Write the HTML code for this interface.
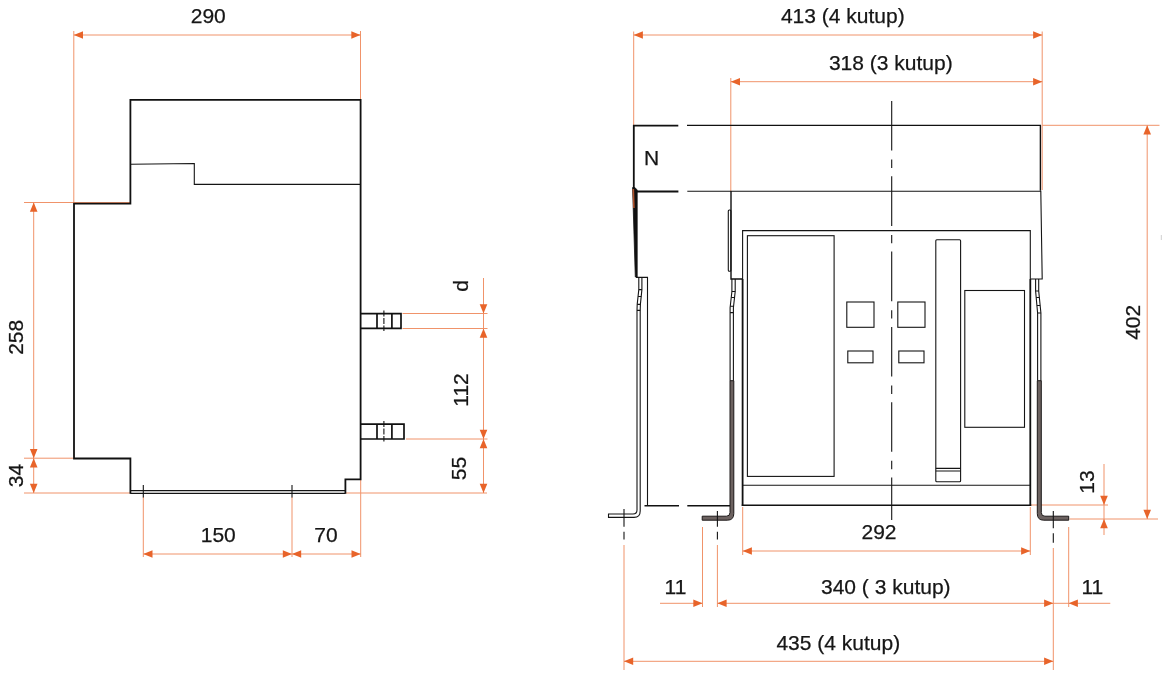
<!DOCTYPE html>
<html><head><meta charset="utf-8"><title>Boyutlar</title>
<style>
html,body{margin:0;padding:0;background:#fff;}
svg{display:block;will-change:transform;}
text{font-family:"Liberation Sans",Arial,sans-serif;font-size:21px;fill:#161616;stroke:#161616;stroke-width:.25;}
.k{stroke:#141414;fill:none;stroke-width:1.1;}
.k2{stroke:#111;fill:none;stroke-width:1.8;}
.k3{stroke:#111;fill:none;stroke-width:1.4;}.kt{stroke:#111;fill:none;stroke-width:1.7;}
.o{stroke:#f0936a;fill:none;stroke-width:1;}
.a{fill:#e8642a;stroke:none;}
.g{fill:#6c6260;stroke:#1c1818;stroke-width:1;}
</style></head><body>
<svg width="1167" height="675" viewBox="0 0 1167 675">
<rect width="1167" height="675" fill="#fff"/>
<defs>
<path id="ar" d="M0,0 L-9.2,-3.8 L-9.2,3.8 Z"/>
</defs>

<!-- ================= SIDE VIEW ================= -->
<g id="side">
<!-- orange dims -->
<g class="o">
<path d="M73.8,31 V203"/><path d="M360.5,31 V99"/>
<path d="M73.8,35 H360.5"/>
<path d="M24,202.5 H130"/>
<path d="M33.7,202.5 V493"/>
<path d="M24,458.2 H74"/>
<path d="M24,493 H130"/>
<path d="M346,493 H487"/>
<path d="M143.3,497 V557"/><path d="M292,497 V557"/><path d="M360.7,480 V557"/>
<path d="M143.3,554 H360.7"/>
<path d="M402.5,313.5 H487.5"/><path d="M402.5,328.5 H487.5"/><path d="M406,439 H487.5"/>
<path d="M483.5,278 V493"/>
</g>
<g class="a">
<use href="#ar" transform="translate(73.8,35) rotate(180)"/>
<use href="#ar" transform="translate(360.5,35)"/>
<use href="#ar" transform="translate(33.7,202.5) rotate(-90)"/>
<use href="#ar" transform="translate(33.7,458.2) rotate(90)"/>
<use href="#ar" transform="translate(33.7,458.2) rotate(-90)"/>
<use href="#ar" transform="translate(33.7,493) rotate(90)"/>
<use href="#ar" transform="translate(143.3,554) rotate(180)"/>
<use href="#ar" transform="translate(292,554)"/>
<use href="#ar" transform="translate(292,554) rotate(180)"/>
<use href="#ar" transform="translate(360.7,554)"/>
<use href="#ar" transform="translate(483.5,313.5) rotate(90)"/>
<use href="#ar" transform="translate(483.5,328.5) rotate(-90)"/>
<use href="#ar" transform="translate(483.5,439) rotate(90)"/>
<use href="#ar" transform="translate(483.5,439) rotate(-90)"/>
<use href="#ar" transform="translate(483.5,493) rotate(90)"/>
</g>
<!-- outline -->
<path class="k2" d="M130.4,493.8 V458.5 H74 V203.6 H130.4 V99.8 H360.6 V479.3 H345.4 V493.8"/><path class="k" stroke-width="1.3" d="M130.4,493.4 H345.4"/>
<path class="k" stroke-width="1.2" d="M130.4,490.6 H345.4"/>
<path class="k" d="M130.4,164.3 L194.3,163.5 V184.4 H360.6"/>
<path class="k" d="M143.3,485 V497.5"/><path class="k" d="M292,485 V497.5"/>
<!-- terminals -->
<path class="kt" d="M360.6,313.6 H401 V328.4 H360.6"/>
<path class="kt" d="M377,313.6 V328.4 M391.9,313.6 V328.4"/>
<path class="k" stroke-dasharray="6 1.5" d="M383.9,310.5 V331"/>
<path class="kt" d="M360.6,424.2 H404 V439 H360.6"/>
<path class="kt" d="M377,424.2 V439 M391.9,424.2 V439"/>
<path class="k" stroke-dasharray="6 1.5" d="M383.9,421 V441.5"/>
<!-- texts -->
<text x="208.3" y="22.7" text-anchor="middle">290</text>
<text transform="translate(22.6,337.3) rotate(-90)" text-anchor="middle">258</text>
<text transform="translate(22.6,475.5) rotate(-90)" text-anchor="middle">34</text>
<text x="218.3" y="541.7" text-anchor="middle">150</text>
<text x="326" y="541.7" text-anchor="middle">70</text>
<text transform="translate(467.8,286) rotate(-90)" text-anchor="middle">d</text>
<text transform="translate(467.8,390) rotate(-90)" text-anchor="middle">112</text>
<text transform="translate(466,468.6) rotate(-90)" text-anchor="middle">55</text>
</g>

<!-- ================= FRONT VIEW ================= -->
<g id="front">
<g class="o">
<path d="M633.7,31.5 V125"/><path d="M1042.2,31.5 V190"/>
<path d="M633.7,35 H1042.3"/>
<path d="M730.8,78 V191"/>
<path d="M730.8,81.7 H1042.3"/>
<path d="M1042.3,125.3 H1159.5"/>
<path d="M1147.2,125.3 V519"/>
<path d="M1030.3,505 H1108"/>
<path d="M1069.5,519 H1158"/>
<path d="M1104,464 V535"/>
<path d="M742.7,507 V555"/><path d="M1030.3,507 V555"/>
<path d="M742.7,551 H1030.3"/>
<path d="M624,545 V670"/><path d="M1053.3,548 V670"/>
<path d="M624,661.3 H1053.3"/>
<path d="M702.5,527 V607"/><path d="M717.4,545 V607"/>
<path d="M1068.7,527 V607"/>
<path d="M660,603.3 H702.5"/>
<path d="M717.4,603.3 H1110.3"/>
</g>
<g class="a">
<use href="#ar" transform="translate(633.7,35) rotate(180)"/>
<use href="#ar" transform="translate(1042.3,35)"/>
<use href="#ar" transform="translate(730.8,81.7) rotate(180)"/>
<use href="#ar" transform="translate(1042.3,81.7)"/>
<use href="#ar" transform="translate(1147.2,125.3) rotate(-90)"/>
<use href="#ar" transform="translate(1147.2,519) rotate(90)"/>
<use href="#ar" transform="translate(1104,505) rotate(90)"/>
<use href="#ar" transform="translate(1104,519) rotate(-90)"/>
<use href="#ar" transform="translate(742.7,551) rotate(180)"/>
<use href="#ar" transform="translate(1030.3,551)"/>
<use href="#ar" transform="translate(624,661.3) rotate(180)"/>
<use href="#ar" transform="translate(1053.3,661.3)"/>
<use href="#ar" transform="translate(702.5,603.3)"/>
<use href="#ar" transform="translate(717.4,603.3) rotate(180)"/>
<use href="#ar" transform="translate(1053.3,603.3)"/>
<use href="#ar" transform="translate(1068.7,603.3) rotate(180)"/>
</g>

<!-- N pole box -->
<path class="k2" stroke-width="2.6" d="M678.3,125.7 H633"/><path class="k2" stroke-width="1.7" d="M633.8,125 V189"/>
<path class="k3" d="M687,125.4 H1040.4 V190.8"/>
<path class="k2" stroke-width="1.6" d="M636,191.5 H678.4"/>
<path class="k" stroke-width="1.2" d="M687.3,191.3 H1040.8 L1042.2,279 H1030.4"/>
<path d="M632.6,187.5 H634.9 L637.2,190 V277 H635.3 Z" fill="#111" stroke="#111" stroke-width="0.8"/>
<path d="M633.3,189 L633.9,208" stroke="#b0522c" stroke-width="1.6" fill="none"/>
<path class="k" d="M636,277.4 H647.5 V505.7"/>
<path class="k3" d="M644.5,505.7 H679"/><path class="k3" d="M687.3,505.7 H730"/>
<!-- left bracket (4 pole) -->
<path class="k" d="M638.8,277.4 V289.6 L637.2,304.4 L637,310.4 V510 Q637,514 633,514 H608.5 V517.4 H634 Q640.2,517.4 640.2,511 V310.4 L640.4,304.4 L641.9,289.6 V277.4"/>
<path class="k" d="M638.8,289.6 H641.9 M638.1,296.5 H641.2 M637.2,304.4 H640.4 M637,310.4 H640.2"/>
<!-- 3-pole left -->
<path class="k3" d="M731,191 V279 H742.6"/>
<rect class="k" x="728.3" y="210" width="2.6" height="61.3" rx="1"/>
<path class="k" d="M731.9,279 V291.5 L730.1,307.8 V380.7 M735.2,279 V291.5 L733.4,307.8 V380.7"/>
<path class="k" d="M731.9,291.5 H735.2 M731.3,297.5 H734.6 M730.3,306.3 H733.6 M730.1,312.6 H733.4"/>
<path class="g" d="M730,380.7 H733.8 V513.6 Q733.8,520.2 727.4,520.2 H702.2 V516.2 H726.4 Q730,516.2 730,512.6 Z"/>
<!-- main body -->
<path class="k" stroke-width="1.2" d="M742.6,279 V230.6 H1030.3 V279"/><path class="k2" stroke-width="1.9" d="M742.6,279 V505.7 M1030.3,279 V505.7"/>
<path class="k3" stroke-width="1.5" d="M741.7,505.3 H1031.2"/>
<path class="k" d="M742.6,485.3 H1030.4"/>
<rect class="k" stroke-width="1.2" x="747.4" y="235.7" width="86.7" height="240.7"/>
<rect class="k" x="846.8" y="302" width="27.2" height="25.3"/>
<rect class="k" x="897.8" y="302" width="27.2" height="25.3"/>
<rect class="k" x="847.8" y="351" width="25.2" height="11.8"/>
<rect class="k" x="898.8" y="351" width="25.2" height="11.8"/>
<rect class="k" x="935.8" y="239.7" width="24.8" height="242" rx="1"/>
<path class="k" d="M935.8,468.4 H960.6 M935.8,471 H960.6"/>
<rect class="k" x="964.8" y="290.5" width="59.7" height="136.8"/>
<!-- right bracket -->
<path class="k" d="M1035.6,279 V291 L1037.6,313 V380.7 M1038.7,279 V291 L1040.9,313 V380.7"/>
<path class="k" d="M1035.6,291 H1038.7 M1036.2,297.5 H1039.3 M1036.9,305.5 H1040.1 M1037.6,313 H1040.9"/>
<path class="g" d="M1041.3,380.7 H1037.3 V513.6 Q1037.3,520.2 1043.7,520.2 H1068.7 V516.2 H1044.9 Q1041.3,516.2 1041.3,512.6 Z"/>
<!-- centre lines -->
<path class="k" stroke-dasharray="49.6 9 8.4 8.3" d="M891.7,101 V520"/>
<path class="k" d="M624,509 V526.7 M624,531.7 V539.5"/>
<path class="k" d="M717.4,511 V526.7 M717.4,531.7 V539.5"/>
<path class="k" d="M1053.3,511 V528.3 M1053.3,533.3 V542.7"/>
<path d="M1161.3,235 V240" stroke="#cfcfcf" stroke-width="1" fill="none"/>
<!-- texts -->
<text x="842.8" y="22.7" text-anchor="middle">413 (4 kutup)</text>
<text x="890.8" y="70" text-anchor="middle">318 (3 kutup)</text>
<text x="651.6" y="165" text-anchor="middle">N</text>
<text transform="translate(1139.5,322.3) rotate(-90)" text-anchor="middle">402</text>
<text transform="translate(1094.3,482) rotate(-90)" text-anchor="middle">13</text>
<text x="879" y="539.3" text-anchor="middle">292</text>
<text x="675.5" y="594" text-anchor="middle">11</text>
<text x="1092.3" y="594" text-anchor="middle">11</text>
<text x="885.8" y="594" text-anchor="middle">340 ( 3 kutup)</text>
<text x="838.3" y="650" text-anchor="middle">435 (4 kutup)</text>
</g>
</svg>
</body></html>
